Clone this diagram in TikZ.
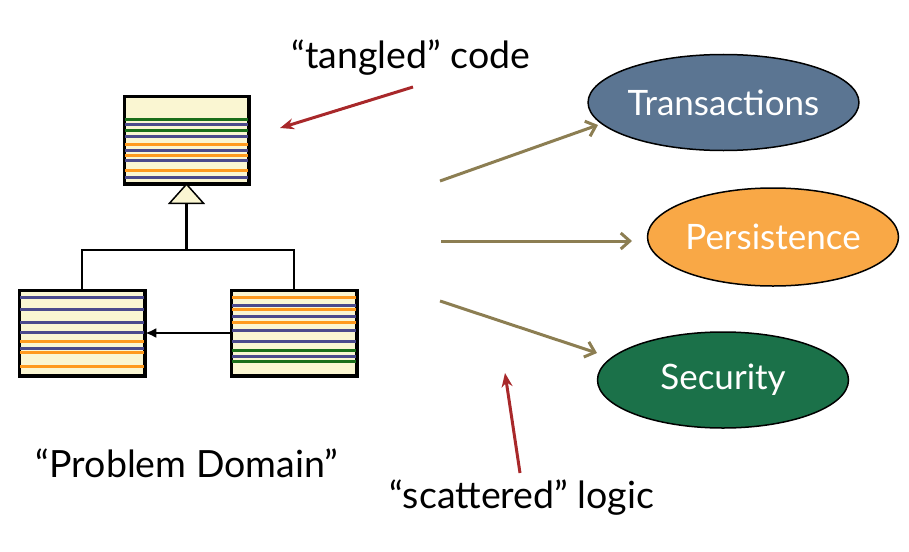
\documentclass[tikz,border=0pt]{standalone}
\usepackage{fontspec}
\setmainfont{Lato}
\usetikzlibrary{arrows.meta,shapes.geometric,calc}
\definecolor{cream}{HTML}{FAF6D2}
\definecolor{sgreen}{HTML}{1A6E1A}
\definecolor{spurple}{HTML}{4B4A8C}
\definecolor{sorange}{HTML}{FF9A1E}
\definecolor{olive}{HTML}{8C7E52}
\definecolor{redar}{HTML}{A8282A}
\definecolor{transc}{HTML}{5B7592}
\definecolor{persc}{HTML}{F9A846}
\definecolor{secc}{HTML}{1B7149}
\tikzset{
  classbox/.style={draw=black, line width=2.5pt, fill=cream, inner sep=0pt},
  stripe/.style={line width=3pt},
  olivearrow/.style={draw=olive, line width=3pt, -{Straight Barb[length=9pt,width=16pt,line width=3pt]}},
  redarrow/.style={draw=redar, line width=3pt, -{Stealth[length=14pt,width=11pt]}},
  concern/.style={ellipse, draw=black, line width=1.5pt, minimum width=251pt, minimum height=96pt, inner sep=0pt, text=white, font=\fontsize{35}{40}\selectfont},
  label/.style={font=\fontsize{37.5}{44}\selectfont, inner sep=0pt}
}
\begin{document}
\begin{tikzpicture}[x=1pt,y=-1pt]
\useasboundingbox (0,0) rectangle (909,551);
% class boxes
\node[classbox, minimum width=123pt, minimum height=86pt] (top) at (186.5,140) {};
\node[classbox, minimum width=124pt, minimum height=84pt] (left) at (82,333) {};
\node[classbox, minimum width=124pt, minimum height=84pt] (right) at (294,333) {};
% stripes
\foreach \y/\c in {119/sgreen,124.5/spurple,130.5/sgreen,136.5/spurple,144/sorange,150.5/spurple,155.5/sorange,160.5/spurple,170/sorange,177/spurple}
  \draw[stripe,\c] (125,\y) -- (248,\y);
\foreach \y/\c in {297/spurple,309/spurple,322.5/spurple,332.5/spurple,341.5/sorange,348/spurple,352.5/sorange,366.5/sorange}
  \draw[stripe,\c] (20,\y) -- (144,\y);
\foreach \y/\c in {297/sorange,305/spurple,309/sorange,316/spurple,322.5/sorange,330/spurple,341/spurple,350.5/sgreen,356/spurple,361.5/sgreen}
  \draw[stripe,\c] (232,\y) -- (356,\y);
\draw[line width=2.5pt] (top.north west) rectangle (top.south east);
\draw[line width=2.5pt] (left.north west) rectangle (left.south east);
\draw[line width=2.5pt] (right.north west) rectangle (right.south east);
% inheritance
\draw[line width=1.5pt, fill=cream] (top.south) -- ++(-17,19) -- ++(34,0) -- cycle;
\coordinate (tri) at ($(top.south)+(0,19)$);
\coordinate (j) at (186.5,250);
\draw[line width=2.5pt] (tri) -- (j);
\draw[line width=2.5pt] (left.north) |- (j) -| (right.north);
% association
\draw[line width=2.5pt, -{Latex[length=11pt,width=10pt]}] (right.west) -- (left.east);
% concerns
\node[concern, fill=transc] (trans) at (723.5,102.5) {Transactions};
\node[concern, fill=persc, minimum height=98pt] (pers) at (773,237) {Persistence};
\node[concern, fill=secc] (sec) at (723,380) {Security};
% olive arrows
\coordinate (a1) at (440,181);
\coordinate (a2) at (441,241);
\coordinate (a3) at (440,301);
\coordinate (e1) at (598,125);
\coordinate (e2) at (632,241);
\coordinate (e3) at (597,353);
\draw[olivearrow] (a1) -- (e1);
\draw[olivearrow] (a2) -- (e2);
\draw[olivearrow] (a3) -- (e3);
% labels
\node[label, anchor=base] (tangled) at (411,68) {“tangled” code};
\node[label, anchor=base] (problem) at (187,477) {“Problem Domain”};
\node[label, anchor=base] (scattered) at (522,508) {“scattered” logic};
% red arrows
\coordinate (r1) at (413,87);
\coordinate (r1e) at (280,128);
\coordinate (r2) at (520,473);
\coordinate (r2e) at (505,373);
\draw[redarrow] (r1) -- (r1e);
\draw[redarrow] (r2) -- (r2e);
\end{tikzpicture}
\end{document}
